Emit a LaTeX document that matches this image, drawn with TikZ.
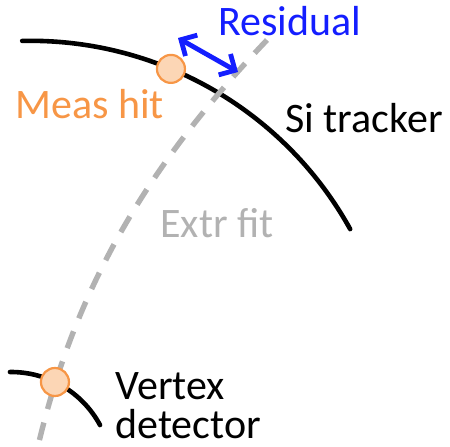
\documentclass[tikz,border=0pt]{standalone}
\usepackage{fontspec}
\setmainfont{Carlito}
\usetikzlibrary{arrows.meta,positioning}
\definecolor{peach}{RGB}{252,214,181}
\definecolor{tangerine}{RGB}{247,150,70}
\definecolor{fog}{RGB}{178,178,178}
\definecolor{royal}{RGB}{20,30,255}
\definecolor{ink}{RGB}{0,0,0}
\tikzset{
  layer/.style={draw=ink,line width=2.3pt,line cap=round},
  hit/.style={circle,draw=tangerine,fill=peach,line width=1.1pt,minimum size=14pt,inner sep=0pt},
  fit track/.style={draw=fog,line width=2.7pt,dash pattern=on 9pt off 7pt},
  resid/.style={{Straight Barb[length=6pt,width=12pt]}-{Straight Barb[length=6pt,width=12pt]},draw=royal,line width=2.4pt},
  lbl/.style={font=\fontsize{21}{25}\selectfont,inner sep=0pt,anchor=base west,text=#1},
  lbl/.default=ink,
}
\begin{document}
\begin{tikzpicture}[x=0.5pt,y=0.5pt]
  \useasboundingbox (0,0) rectangle (450,-446);
  % detector layers
  \coordinate (sic) at (30.5,-406.3);
  \coordinate (vxc) at (11.2,-472.9);
  \draw[layer] (sic) ++(91.3:182.75pt) arc[start angle=91.3,end angle=29,radius=182.75pt];
  \draw[layer] (vxc) ++(90.7:50.45pt) arc[start angle=90.7,end angle=28.3,radius=50.45pt];
  % extrapolated fit
  \coordinate (ftop) at (267,-40);
  \coordinate (fbot) at (38,-446);
  \draw[fit track] (ftop) .. controls (145,-168) and (75,-290) .. (fbot);
  % hits
  \node[hit] (meas) at (sic) [shift={(67.4:182.75pt)}] {};
  \node[hit] (vtx) at (vxc) [shift={(64.3:50.45pt)}] {};
  % residual
  \coordinate (resa) at (178,-38);
  \coordinate (resb) at (238,-72);
  \draw[resid] (resa) -- (resb);
  % labels
  \node[lbl=royal] (reslbl) at (218,-35) {Residual};
  \node[lbl=tangerine] (measlbl) at (15,-118) {Meas hit};
  \node[lbl] (silbl) at (285,-132) {Si tracker};
  \node[lbl=fog] (fitlbl) at (160,-237) {Extr fit};
  \node[lbl] (vxlbl) at (115,-399) {Vertex};
  \node[lbl] (detlbl) at (115,-438) {detector};
\end{tikzpicture}
\end{document}
